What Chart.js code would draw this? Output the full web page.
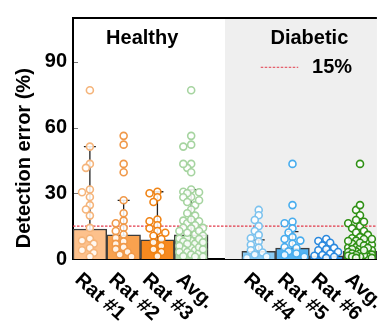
<!DOCTYPE html>
<html>
<head>
<meta charset="utf-8">
<script src="https://cdn.jsdelivr.net/npm/chart.js@4.4.1/dist/chart.umd.min.js"></script>
<style>
  html, body { margin: 0; padding: 0; background: #fff; overflow: hidden; }
  #wrap { width: 382px; height: 324px; position: relative; }
</style>
</head>
<body>
<div id="wrap"><canvas id="c"></canvas></div>
<script>
// ---- data ----
const categories = ['Rat #1', 'Rat #2', 'Rat #3', 'Avg.', '', 'Rat #4', 'Rat #5', 'Rat #6', 'Avg.'];
const meanError = [13.7, 11.0, 8.7, 11.0, null, 3.5, 5.0, 1.5, 3.5];
const sdError   = [37.6, 15.8, 22.0, 20.6, null, 5.2, 7.5, 2.5, 5.2];
const yTicks = [0, 30, 60, 90];
const threshold = 15;

// individual detection errors (%)
const rat1 = [77, 51.3, 43.4, 41.6, 31.7, 30.5, 28.3, 24.6, 22.6, 19.8, 14.2, 9.3, 8.4, 7, 5, 4, 2.8, 1];
const rat2 = [56.2, 52.2, 43.4, 39.6, 26.8, 20.9, 17.5, 16.3, 14.3, 12.8, 11.2, 9.6, 8, 6.9, 5.4, 4.5, 3.2, 2, 1];
const rat3 = [30.7, 30.0, 28.2, 26, 18, 17.2, 15.4, 14, 12.8, 12, 10.6, 9.1, 7.6, 6, 4.4, 3.2, 1.3];
const rat4 = [22.4, 20, 17.8, 15, 12.8, 11, 9.5, 8, 6.5, 5.2, 4, 3, 2, 1, 0.5];
const rat5 = [43.4, 24.6, 17, 16.3, 14, 12.1, 10, 9.1, 8.4, 7, 5.4, 5, 3.5, 2.5, 1.8, 1];
const rat6 = [9.1, 8.2, 7.4, 6.2, 5.1, 4.5, 4, 3.2, 2.5, 1.8, 1.5, 1, 0.5];
// group averages pool every measurement of the group
const healthyAll = [...rat1, ...rat2, ...rat3];
const diabeticAll = [...rat4, ...rat5, ...rat6];

// ---- styling ----
const barColors   = ['#fdc18c', '#f9a24f', '#f7891f', '#b4dcaf', null, '#8ccbf3', '#55b3f1', '#2f8fe5', '#3a9a1f'];
const pointColors = ['#f5b47a', '#f0994a', '#f08416', '#a6d4a0', null, '#7cc2ee', '#48adee', '#2a88de', '#2f9015'];
const groups = [
  { cat: 0, values: rat1 }, { cat: 1, values: rat2 }, { cat: 2, values: rat3 }, { cat: 3, values: healthyAll },
  { cat: 5, values: rat4 }, { cat: 6, values: rat5 }, { cat: 7, values: rat6 }, { cat: 8, values: diabeticAll }
];

const FONT = "'Liberation Sans', Arial, sans-serif";
Chart.defaults.font.family = FONT;
Chart.defaults.color = '#000';

// simple beeswarm: spread overlapping points sideways around the category centre
const SLOT_PX = 34.3, PX_PER_UNIT = 250 / 110, R = 3.5;
function swarm(values) {
  const order = values.map((v, i) => i).sort((a, b) => values[b] - values[a]);
  const placed = [], offs = new Array(values.length);
  const step = 4, minD = R * 1.55;
  const cands = [0, -step, step, -2 * step, 2 * step, -3 * step, 3 * step];
  for (const i of order) {
    const py = values[i] * PX_PER_UNIT;
    let best = 0, bestD = -1;
    for (const c of cands) {
      let d = Infinity;
      for (const p of placed) d = Math.min(d, Math.hypot(p.x - c, p.y - py));
      if (d >= minD) { best = c; break; }
      if (d > bestD) { bestD = d; best = c; }
    }
    placed.push({ x: best, y: py });
    offs[i] = best / SLOT_PX;
  }
  return values.map((v, i) => ({ dx: offs[i], y: v }));
}

const barIdx = meanError.map((m, i) => i).filter(i => meanError[i] !== null);
const barSet = {
  order: 2,
  data: barIdx.map(i => ({ x: i, y: meanError[i] })),
  backgroundColor: barIdx.map(i => barColors[i]),
  borderColor: '#3c3c3c',
  borderWidth: 1.5,
  grouped: false,
  barPercentage: 1,
  categoryPercentage: 1
};

const scatterSets = groups.map(g => ({
  type: 'scatter',
  order: 1,
  data: swarm(g.values).map(p => ({ x: g.cat + p.dx, y: p.y })),
  pointRadius: R,
  pointHoverRadius: R,
  pointBorderWidth: 1.6,
  pointBorderColor: pointColors[g.cat],
  pointBackgroundColor: 'rgba(255,255,255,0.88)'
}));

const deg = Math.PI / 180;
const decor = {
  id: 'decor',
  beforeDatasetsDraw(chart) {
    const { ctx, chartArea: a, scales: { x, y } } = chart;
    ctx.save();
    // shaded panel for the diabetic group, starting mid-way through the spacer slot
    const gx = x.getPixelForValue(4);
    ctx.fillStyle = '#efefef';
    ctx.fillRect(gx, a.top, a.right - gx, a.bottom - a.top);
    // 15 % threshold
    const ty = y.getPixelForValue(threshold);
    ctx.strokeStyle = '#e23b4b';
    ctx.lineWidth = 1.2;
    ctx.setLineDash([2.5, 1.5]);
    ctx.beginPath(); ctx.moveTo(a.left, ty); ctx.lineTo(a.right, ty); ctx.stroke();
    ctx.restore();
  },
  afterDatasetDraw(chart, args) {
    if (args.index !== 0) return;
    const { ctx, scales: { x, y } } = chart;
    ctx.save();
    ctx.strokeStyle = '#222';
    ctx.lineWidth = 1.3;
    meanError.forEach((m, i) => {
      if (m === null) return;
      const px = x.getPixelForValue(i);
      const y0 = y.getPixelForValue(m), y1 = y.getPixelForValue(m + sdError[i]);
      ctx.beginPath();
      ctx.moveTo(px, y0); ctx.lineTo(px, y1);
      ctx.moveTo(px - 6, y1); ctx.lineTo(px + 6, y1);
      ctx.stroke();
    });
    ctx.restore();
  },
  afterDraw(chart) {
    const { ctx, chartArea: a, scales: { x, y } } = chart;
    ctx.save();
    // top frame line
    ctx.strokeStyle = '#000';
    ctx.lineWidth = 2;
    ctx.beginPath(); ctx.moveTo(a.left - 1, a.top); ctx.lineTo(a.right, a.top); ctx.stroke();
    // inward tick marks on the y axis
    ctx.strokeStyle = '#777';
    ctx.lineWidth = 1;
    yTicks.forEach(t => {
      if (t === 0) return;
      const py = Math.round(y.getPixelForValue(t)) + 0.5;
      ctx.beginPath(); ctx.moveTo(a.left + 1, py); ctx.lineTo(a.left + 5, py); ctx.stroke();
    });
    // slanted category labels
    ctx.fillStyle = '#000';
    ctx.font = `bold 20px ${FONT}`;
    ctx.textAlign = 'left';
    ctx.textBaseline = 'alphabetic';
    categories.forEach((lab, i) => {
      if (!lab) return;
      ctx.save();
      ctx.translate(x.getPixelForValue(i) - 16, a.bottom + 22);
      ctx.rotate(42 * deg);
      ctx.fillText(lab, 0, 0);
      ctx.restore();
    });
    // group headings
    ctx.textAlign = 'center';
    ctx.textBaseline = 'middle';
    ctx.fillText('Healthy', x.getPixelForValue(1.55), y.getPixelForValue(100.5));
    ctx.fillText('Diabetic', x.getPixelForValue(6.5), y.getPixelForValue(100.5));
    // threshold key
    const ky = y.getPixelForValue(87.5);
    ctx.strokeStyle = '#e23b4b';
    ctx.lineWidth = 1;
    ctx.setLineDash([2.5, 1.5]);
    ctx.beginPath(); ctx.moveTo(x.getPixelForValue(5.06), ky); ctx.lineTo(x.getPixelForValue(6.17), ky); ctx.stroke();
    ctx.setLineDash([]);
    ctx.textAlign = 'left';
    ctx.fillText('15%', x.getPixelForValue(6.58), ky);
    // y axis title
    ctx.save();
    ctx.translate(24, y.getPixelForValue(46));
    ctx.rotate(-90 * deg);
    ctx.textAlign = 'center';
    ctx.fillText('Detection error (%)', 0, 0);
    ctx.restore();
    ctx.restore();
  }
};

new Chart(document.getElementById('c'), {
  type: 'bar',
  data: { datasets: [barSet, ...scatterSets] },
  options: {
    responsive: true,
    maintainAspectRatio: false,
    animation: false,
    events: [],
    layout: { padding: { top: 9, right: 0, left: 0, bottom: 0 } },
    plugins: { legend: { display: false }, tooltip: { enabled: false } },
    scales: {
      x: {
        type: 'linear',
        min: -0.5,
        max: categories.length - 0.5,
        offset: false,
        grid: { display: false, drawTicks: false },
        border: { display: true, color: '#000', width: 2 },
        ticks: { display: false },
        afterFit(s) { s.height = 65; }
      },
      y: {
        min: 0,
        max: 110,
        grid: { display: false, drawTicks: false },
        border: { display: true, color: '#000', width: 2 },
        afterBuildTicks(s) { s.ticks = yTicks.map(v => ({ value: v })); },
        ticks: { padding: 6, font: { size: 20, weight: 'bold' }, color: '#000' },
        afterFit(s) { s.width = 73; }
      }
    }
  },
  plugins: [decor]
});
</script>
</body>
</html>
